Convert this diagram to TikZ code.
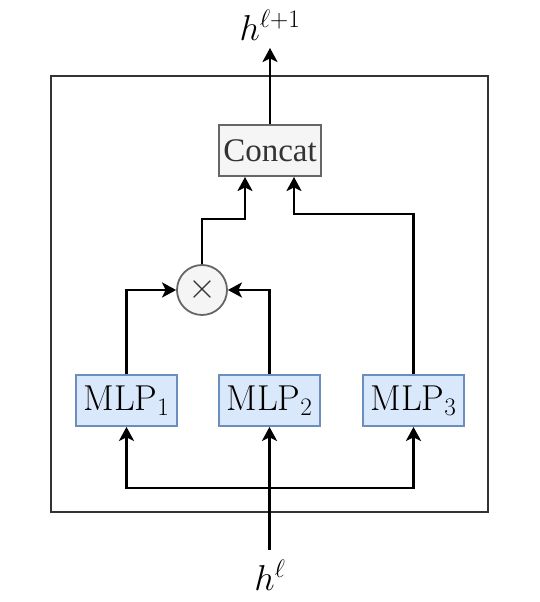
\RequirePackage{fix-cm}
\documentclass[tikz,border=0pt]{standalone}
\usepackage{fontspec}
\newfontfamily\timesfont{Liberation Serif}
\usetikzlibrary{arrows.meta}
\definecolor{mlpfill}{HTML}{DAE8FC}
\definecolor{mlpdraw}{HTML}{6C8EBF}
\definecolor{grayfill}{HTML}{F5F5F5}
\definecolor{graydraw}{HTML}{666666}
\definecolor{graytext}{HTML}{333333}
\tikzset{
  mlpbox/.style={draw=mlpdraw, fill=mlpfill, line width=1.8pt, minimum width=101pt, minimum height=51pt, inner sep=0pt, font=\fontsize{36}{42}\selectfont},
  concatbox/.style={draw=graydraw, fill=grayfill, line width=2pt, minimum width=102pt, minimum height=51pt, inner sep=0pt, text=graytext, font=\timesfont\fontsize{33}{39}\selectfont},
  mulnode/.style={circle, draw=graydraw, fill=grayfill, line width=1.8pt, minimum size=50pt, inner sep=0pt, text=graytext, font=\fontsize{36}{42}\selectfont},
  arr/.style={line width=2.5pt, -{Stealth[length=14pt,width=15pt,inset=3.5pt]}},
  lab/.style={font=\fontsize{36}{42}\selectfont, inner sep=0pt}
}
\begin{document}
\begin{tikzpicture}[x=1pt,y=1pt]
\useasboundingbox (0,0) rectangle (540,602);
\draw[line width=1.2pt, draw=black!80] (51,90) rectangle (488,526);
\node[concatbox] (concat) at (270,451.5) {Concat};
\node[mulnode] (m) at (202,312) {$\times$};
\node[mlpbox] (mlp1) at (126.5,201.5) {$\mathrm{MLP}_1$};
\node[mlpbox] (mlp2) at (269.5,201.5) {$\mathrm{MLP}_2$};
\node[mlpbox] (mlp3) at (413.5,201.5) {$\mathrm{MLP}_3$};
\coordinate (in) at (269.5,52);
\coordinate (bus) at (269.5,114);
\coordinate (out) at (270,554);
\node[lab] (hin) at (270,27) {$h^{\ell}$};
\node[lab] (hout) at (270,577) {$h^{\ell+1}$};
\draw[arr] (in) -- (mlp2.south);
\draw[arr] (bus) -| (mlp1.south);
\draw[arr] (bus) -| (mlp3.south);
\draw[arr] (mlp1.north) |- (m.west);
\draw[arr] (mlp2.north) |- (m.east);
\draw[arr] (m.north) |- ([xshift=-25pt,yshift=-42pt]concat.south) -- ([xshift=-25pt]concat.south);
\draw[arr] (mlp3.north) |- ([xshift=24pt,yshift=-37pt]concat.south) -- ([xshift=24pt]concat.south);
\draw[arr] (concat.north) -- (out);
\end{tikzpicture}
\end{document}
